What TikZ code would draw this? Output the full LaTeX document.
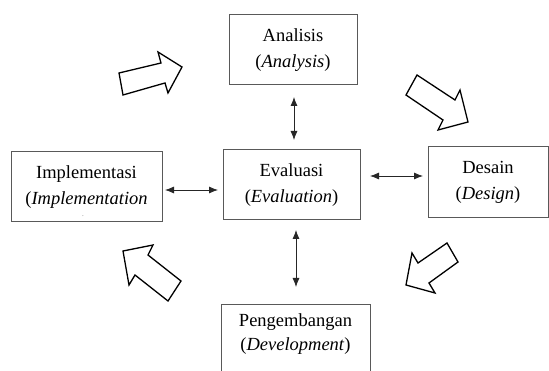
\documentclass[tikz,border=0pt]{standalone}
\usepackage{fontspec}
\setmainfont{Liberation Serif}
\usetikzlibrary{arrows.meta}
\begin{document}
\begin{tikzpicture}[x=1pt,y=-1pt,
  box/.style={draw=black!65, line width=1pt, inner sep=0pt, outer sep=0pt, align=center, font=\fontsize{18.5}{26}\selectfont},
  txt/.style={inner sep=0pt, align=center, font=\fontsize{18.5}{24}\selectfont},
  link/.style={{Latex[length=9pt,width=7pt]}-{Latex[length=9pt,width=7pt]}, line width=0.8pt, draw=black!85},
  fat/.style={draw=black, line width=1.3pt, fill=white, line join=miter}]
\clip (0,0) rectangle (549,371);
\fill[white] (0,0) rectangle (549,371);
% boxes
\node[box, minimum width=128pt, minimum height=70pt] (ana) at (293,50) {Analisis\\(\textit{Analysis})};
\node[box, minimum width=137pt, minimum height=70pt] (eva) at (291.5,185) {Evaluasi\\(\textit{Evaluation})};
\node[box, minimum width=120pt, minimum height=71pt] (des) at (488,182.5) {Desain\\(\textit{Design})};
\node[box, minimum width=151pt, minimum height=70pt] (imp) at (86.5,187) {Implementasi\\(\textit{Implementation}};
\node[txt, font=\fontsize{7}{7}\selectfont, text=black!55] (dot) at (83,216) {.};
\node[box, minimum width=149pt, minimum height=80pt, anchor=north] (dev) at (295.5,305) {};
\node[txt] (devtext) at (295.5,334) {Pengembangan\\(\textit{Development})};
% connectors
\draw[link, shorten <=12pt, shorten >=10pt] ([xshift=1pt]ana.south) -- ([xshift=1pt]ana.south |- eva.north);
\draw[link, shorten <=10pt, shorten >=18pt] ([xshift=4.5pt]eva.south) -- ([xshift=4.5pt]eva.south |- dev.north);
\draw[link, shorten <=3pt, shorten >=5pt] ([yshift=-3pt]imp.east) -- ([yshift=-3pt]imp.east -| eva.west);
\draw[link, shorten <=10pt, shorten >=5pt] ([yshift=9pt]eva.east) -- ([yshift=9pt]eva.east -| des.west);
% block arrows
\draw[fat] (119,73) -- (161,63) -- (158,52) -- (182,67) -- (168,93) -- (165,83) -- (123,95) -- cycle;
\draw[fat] (417,75) -- (455,100) -- (460,90) -- (468,122) -- (438,130) -- (443,120) -- (406,95) -- cycle;
\draw[fat] (447,243) -- (458,262) -- (429,283) -- (435,293) -- (406,285) -- (412,253) -- (418,263) -- cycle;
\draw[fat] (123,251) -- (153,245) -- (148,255) -- (181,281) -- (168,301) -- (135,275) -- (129,285) -- cycle;
\end{tikzpicture}
\end{document}
